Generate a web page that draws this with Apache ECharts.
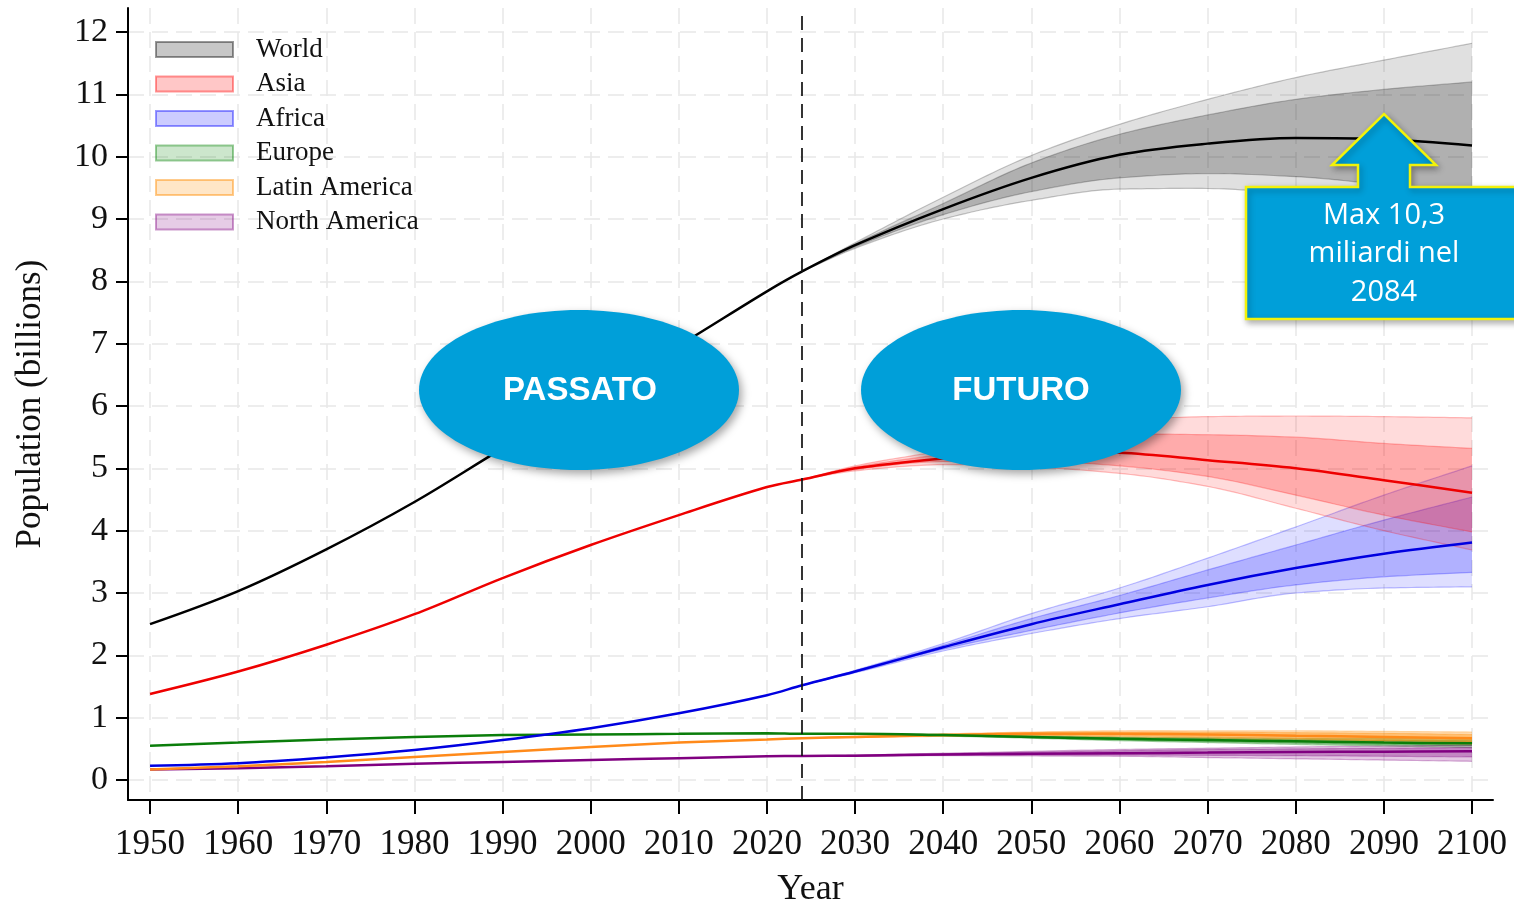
<!DOCTYPE html>
<html>
<head>
<meta charset="utf-8">
<script src="https://cdn.jsdelivr.net/npm/echarts@6/dist/echarts.min.js"></script>
<style>
html,body{margin:0;padding:0;background:#fff;}
#chart{width:1514px;height:905px;}
</style>
</head>
<body>
<div id="chart"></div>
<script>
// ---------- DATA ----------
const YEARS = [1950,1960,1970,1980,1990,2000,2010,2020,2024,2030,2040,2050,2060,2070,2080,2090,2100];
const PROJ_YEARS = [2024,2030,2040,2050,2060,2070,2080,2090,2100];
const X_TICKS = [1950,1960,1970,1980,1990,2000,2010,2020,2030,2040,2050,2060,2070,2080,2090,2100];
const Y_TICKS = [0,1,2,3,4,5,6,7,8,9,10,11,12];
const REGIONS = ['World','Asia','Africa','Europe','Latin America','North America'];

const WORLD_MEDIAN = [2.50,3.03,3.70,4.46,5.32,6.15,6.97,7.84,8.16,8.58,9.16,9.66,10.03,10.21,10.30,10.28,10.18];
const WORLD_UP95   = [8.16,8.62,9.35,10.02,10.52,10.92,11.27,11.55,11.82];
const WORLD_UP80   = [8.16,8.60,9.25,9.90,10.36,10.67,10.92,11.08,11.20];
const WORLD_LO80   = [8.16,8.55,9.07,9.44,9.66,9.73,9.68,9.55,9.40];
const WORLD_LO95   = [8.16,8.53,9.00,9.30,9.48,9.49,9.40,9.20,9.00];

const ASIA_MEDIAN = [1.38,1.74,2.17,2.66,3.24,3.77,4.25,4.70,4.82,5.00,5.16,5.27,5.25,5.13,5.00,4.81,4.61];
const ASIA_UP95   = [4.82,5.04,5.29,5.60,5.77,5.83,5.84,5.83,5.81];
const ASIA_UP80   = [4.82,5.02,5.23,5.45,5.55,5.54,5.50,5.40,5.32];
const ASIA_LO80   = [4.82,4.98,5.11,5.12,5.04,4.87,4.57,4.25,3.98];
const ASIA_LO95   = [4.82,4.96,5.06,5.02,4.92,4.71,4.36,4.00,3.69];

const AFRICA_MEDIAN = [0.23,0.27,0.36,0.48,0.64,0.83,1.07,1.36,1.52,1.74,2.13,2.50,2.82,3.13,3.40,3.63,3.81];
const AFRICA_UP95   = [1.52,1.76,2.19,2.67,3.08,3.56,4.06,4.57,5.04];
const AFRICA_UP80   = [1.52,1.75,2.16,2.59,2.96,3.37,3.77,4.17,4.54];
const AFRICA_LO80   = [1.52,1.73,2.10,2.40,2.68,2.92,3.13,3.26,3.33];
const AFRICA_LO95   = [1.52,1.72,2.07,2.35,2.59,2.78,3.00,3.08,3.10];

const EUROPE_MEDIAN = [0.55,0.60,0.65,0.69,0.72,0.73,0.74,0.75,0.74,0.74,0.72,0.69,0.66,0.64,0.62,0.60,0.59];
const EUROPE_UP95   = [0.74,0.745,0.735,0.71,0.69,0.68,0.67,0.665,0.66];
const EUROPE_UP80   = [0.74,0.742,0.728,0.70,0.68,0.665,0.65,0.64,0.63];
const EUROPE_LO80   = [0.74,0.738,0.712,0.68,0.645,0.615,0.59,0.565,0.55];
const EUROPE_LO95   = [0.74,0.735,0.705,0.67,0.63,0.60,0.57,0.545,0.52];

const LATAM_MEDIAN = [0.17,0.22,0.29,0.37,0.45,0.53,0.60,0.65,0.67,0.69,0.72,0.74,0.74,0.73,0.71,0.69,0.67];
const LATAM_UP95   = [0.67,0.70,0.74,0.77,0.79,0.79,0.79,0.78,0.77];
const LATAM_UP80   = [0.67,0.695,0.73,0.76,0.77,0.77,0.76,0.75,0.73];
const LATAM_LO80   = [0.67,0.685,0.71,0.72,0.71,0.69,0.66,0.63,0.61];
const LATAM_LO95   = [0.67,0.68,0.70,0.71,0.69,0.67,0.63,0.60,0.57];

const NAM_MEDIAN = [0.17,0.19,0.22,0.26,0.29,0.32,0.35,0.38,0.385,0.39,0.41,0.42,0.43,0.44,0.45,0.455,0.46];
const NAM_UP95   = [0.385,0.40,0.43,0.46,0.49,0.51,0.53,0.545,0.56];
const NAM_UP80   = [0.385,0.395,0.42,0.445,0.47,0.49,0.50,0.51,0.52];
const NAM_LO80   = [0.385,0.385,0.40,0.40,0.40,0.395,0.39,0.38,0.37];
const NAM_LO95   = [0.385,0.38,0.39,0.385,0.38,0.36,0.34,0.32,0.30];

const CUT_YEAR = 2024;
const ANNOTATIONS = ['PASSATO','FUTURO','Max 10,3\nmiliardi nel\n2084'];

// ---------- STYLES ----------
const STYLE = {
  'World':        {line:'#000000', rgb:'0,0,0',     o:0.12, i:0.21, edge:0.22, lf:'rgba(0,0,0,0.22)',   lb:'rgba(0,0,0,0.40)'},
  'Asia':         {line:'#ee0000', rgb:'255,0,0',   o:0.14, i:0.22, edge:0.25, lf:'rgba(255,0,0,0.22)', lb:'rgba(255,0,0,0.40)'},
  'Africa':       {line:'#0000e0', rgb:'0,0,255',   o:0.13, i:0.20, edge:0.25, lf:'rgba(0,0,255,0.20)', lb:'rgba(0,0,255,0.40)'},
  'Europe':       {line:'#0a7d0a', rgb:'0,128,0',   o:0.22, i:0.32, edge:0.30, lf:'rgba(0,128,0,0.20)', lb:'rgba(0,128,0,0.40)'},
  'Latin America':{line:'#ff8a1a', rgb:'255,140,0', o:0.28, i:0.38, edge:0.30, lf:'rgba(255,140,0,0.22)', lb:'rgba(255,140,0,0.45)'},
  'North America':{line:'#800080', rgb:'128,0,128', o:0.22, i:0.32, edge:0.30, lf:'rgba(128,0,128,0.20)', lb:'rgba(128,0,128,0.40)'}
};

const DATASETS = {
  'World':[WORLD_MEDIAN,WORLD_UP95,WORLD_UP80,WORLD_LO80,WORLD_LO95],
  'Asia':[ASIA_MEDIAN,ASIA_UP95,ASIA_UP80,ASIA_LO80,ASIA_LO95],
  'Africa':[AFRICA_MEDIAN,AFRICA_UP95,AFRICA_UP80,AFRICA_LO80,AFRICA_LO95],
  'Europe':[EUROPE_MEDIAN,EUROPE_UP95,EUROPE_UP80,EUROPE_LO80,EUROPE_LO95],
  'Latin America':[LATAM_MEDIAN,LATAM_UP95,LATAM_UP80,LATAM_LO80,LATAM_LO95],
  'North America':[NAM_MEDIAN,NAM_UP95,NAM_UP80,NAM_LO80,NAM_LO95]
};

function pairs(xs, vs){ return xs.map((x,i)=>[x, vs[i]]); }

// monotone cubic smoothing of already-projected pixel points (drawing only)
function smoothPts(P){
  const n = P.length, s = [], dx = [];
  for (let i=0;i<n-1;i++){ dx[i]=P[i+1][0]-P[i][0]; s[i]=(P[i+1][1]-P[i][1])/dx[i]; }
  const m = new Array(n);
  m[0]=s[0]; m[n-1]=s[n-2];
  for (let i=1;i<n-1;i++){
    if (s[i-1]*s[i] <= 0) m[i]=(s[i-1]+s[i])/4;
    else m[i] = 3*(dx[i-1]+dx[i]) / ((2*dx[i]+dx[i-1])/s[i-1] + (dx[i]+2*dx[i-1])/s[i]);
  }
  const out = [];
  const N = 16;
  for (let i=0;i<n-1;i++){
    const x0=P[i][0], y0=P[i][1], y1=P[i+1][1], h=dx[i];
    for (let k=0;k<N;k++){
      const t=k/N, t2=t*t, t3=t2*t;
      const h00=2*t3-3*t2+1, h10=t3-2*t2+t, h01=-2*t3+3*t2, h11=t3-t2;
      out.push([x0+t*h, h00*y0 + h10*h*m[i] + h01*y1 + h11*h*m[i+1]]);
    }
  }
  out.push(P[n-1].slice());
  return out;
}

function bandSeries(name, lo, up, fill, edge){
  return {
    name: name, type:'custom', coordinateSystem:'cartesian2d', silent:true, z:1,
    data: PROJ_YEARS.map((y,i)=>[y, lo[i], up[i]]),
    encode:{x:0, y:[1,2]},
    renderItem: function(params, api){
      if (params.dataIndex !== 0) return null;
      const U = smoothPts(PROJ_YEARS.map((y,i)=>api.coord([y, up[i]])));
      const L = smoothPts(PROJ_YEARS.map((y,i)=>api.coord([y, lo[i]])));
      const poly = U.concat(L.slice().reverse());
      return {type:'group', children:[
        {type:'polygon', shape:{points:poly}, style:{fill:fill, stroke:null, lineWidth:0}},
        {type:'polyline', shape:{points:U}, style:{stroke:edge, lineWidth:1.2, fill:null}},
        {type:'polyline', shape:{points:L}, style:{stroke:edge, lineWidth:1.2, fill:null}}
      ]};
    }
  };
}

const series = [];
const order = ['World','Europe','Latin America','North America','Africa','Asia'];
order.forEach(name => {
  const st = STYLE[name];
  const [, up95, up80, lo80, lo95] = DATASETS[name];
  const edge = 'rgba(' + st.rgb + ',' + st.edge + ')';
  series.push(bandSeries(name + ' 95%', lo95, up95, 'rgba(' + st.rgb + ',' + st.o + ')', edge));
  series.push(bandSeries(name + ' 80%', lo80, up80, 'rgba(' + st.rgb + ',' + st.i + ')', edge));
});
const lineOrder = ['North America','Latin America','Europe','Africa','Asia','World'];
lineOrder.forEach(name => {
  const st = STYLE[name];
  const s = {
    name: name, type:'line', smooth: 0.35, data: pairs(YEARS, DATASETS[name][0]),
    symbol:'none', silent:true, z:3, color: st.line,
    lineStyle:{color: st.line, width:2.5}
  };
  if (name === 'World') {
    s.markLine = {
      silent:true, symbol:'none', label:{show:false},
      lineStyle:{color:'#111', width:1.7, type:[14,8]},
      data:[{xAxis: CUT_YEAR}]
    };
  }
  series.push(s);
});

const SERIF = "'Liberation Serif','DejaVu Serif',serif";
const BLUE = '#009fd9';

const option = {
  animation:false,
  backgroundColor:'#ffffff',
  grid:{left:128, right:21, top:8, bottom:105, containLabel:false, outerBoundsMode:'none'},
  legend:{
    show:true, orient:'vertical', left:155, top:36, padding:0, icon:'rect',
    itemWidth:77, itemHeight:15, itemGap:7.5, selectedMode:false,
    textStyle:{fontFamily:SERIF, fontSize:27, color:'#111', lineHeight:26.5, padding:[0,0,0,18]},
    data: REGIONS.map(n => ({name:n, icon:'rect', itemStyle:{color:STYLE[n].lf, borderColor:STYLE[n].lb, borderWidth:2}}))
  },
  xAxis:{
    type:'value', min:1947.5, max:2102.38,
    name:'Year', nameLocation:'middle', nameGap:72,
    nameTextStyle:{fontFamily:SERIF, fontSize:36, color:'#111'},
    axisLine:{show:true, onZero:false, lineStyle:{color:'#000', width:2}},
    axisTick:{show:true, length:14, lineStyle:{color:'#000', width:2}, customValues:X_TICKS},
    axisLabel:{show:true, fontFamily:SERIF, fontSize:35, color:'#111', margin:27, customValues:X_TICKS, formatter:v=>String(v)},
    splitLine:{show:true, lineStyle:{color:'#e8e8e8', width:1.5, type:[16,8]}}
  },
  yAxis:{
    type:'value', min:-0.321, max:12.386,
    name:'Population (billions)', nameLocation:'middle', nameGap:80,
    nameTextStyle:{fontFamily:SERIF, fontSize:35, color:'#111'},
    axisLine:{show:true, onZero:false, lineStyle:{color:'#000', width:2}},
    axisTick:{show:true, length:12, lineStyle:{color:'#000', width:2}, customValues:Y_TICKS},
    axisLabel:{show:true, fontFamily:SERIF, fontSize:34, color:'#111', margin:20, customValues:Y_TICKS, formatter:v=>String(v)},
    splitLine:{show:true, lineStyle:{color:'#e8e8e8', width:1.5, type:[16,8]}}
  },
  series: series,
  graphic:[
    {type:'ellipse', z:100, shape:{cx:579, cy:390, rx:160, ry:80},
     style:{fill:BLUE, shadowBlur:8, shadowOffsetX:3, shadowOffsetY:4, shadowColor:'rgba(0,0,0,0.35)'}},
    {type:'text', z:101, x:580, y:391,
     style:{text:ANNOTATIONS[0], fill:'#fff', font:"bold 33px 'Liberation Sans', Arial, sans-serif", align:'center', verticalAlign:'middle'}},
    {type:'ellipse', z:100, shape:{cx:1021, cy:390, rx:160, ry:80},
     style:{fill:BLUE, shadowBlur:8, shadowOffsetX:3, shadowOffsetY:4, shadowColor:'rgba(0,0,0,0.35)'}},
    {type:'text', z:101, x:1021, y:391,
     style:{text:ANNOTATIONS[1], fill:'#fff', font:"bold 33px 'Liberation Sans', Arial, sans-serif", align:'center', verticalAlign:'middle'}},
    {type:'polygon', z:100,
     shape:{points:[[1246,187],[1358,187],[1358,165],[1332,165],[1384,114],[1436,165],[1410,165],[1410,187],[1520,187],[1520,319],[1246,319]]},
     style:{fill:BLUE, stroke:'#f2f20a', lineWidth:2.5, shadowBlur:6, shadowOffsetX:2, shadowOffsetY:3, shadowColor:'rgba(0,0,0,0.3)'}},
    {type:'text', z:101, x:1384, y:254,
     style:{text:ANNOTATIONS[2], fill:'#fff', font:"29px 'Open Sans', 'Liberation Sans', Arial, sans-serif", lineHeight:38.5, align:'center', verticalAlign:'middle'}}
  ]
};

const chart = echarts.init(document.getElementById('chart'), null, {renderer:'canvas'});
chart.setOption(option);
</script>
</body>
</html>
